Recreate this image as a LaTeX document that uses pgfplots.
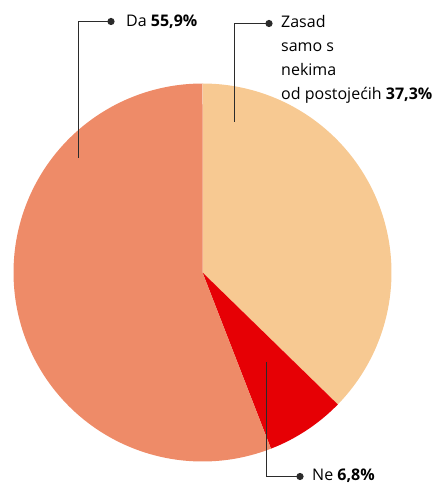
\documentclass[border=0pt]{standalone}
\usepackage{pgfplots}
\pgfplotsset{compat=1.18}
\usepackage{fontspec}
\setmainfont{Open Sans}
\definecolor{cZasad}{HTML}{F7C992}
\definecolor{cNe}{HTML}{E60005}
\definecolor{cDa}{HTML}{EE8B68}
\definecolor{cLine}{HTML}{2B2B2B}
% shares (percent): Zasad 37.3, Ne 6.8, Da 55.9 ; clockwise from 12 o'clock
\def\angA{90}
\def\angB{-44.28}   % 90 - 3.6*37.3
\def\angC{-68.76}   % -44.28 - 3.6*6.8
\def\angD{-270}     % -68.76 - 3.6*55.9
\tikzset{lbl/.style={anchor=base west, inner sep=0pt, font=\fontsize{16}{24}\selectfont}}
\begin{document}
\begin{tikzpicture}
\begin{axis}[
  x=1pt, y=1pt,
  xmin=0, xmax=439, ymin=0, ymax=484,
  hide axis, clip=false,
]
\path (axis cs:0,0) rectangle (axis cs:439,484);
% Zasad 37.3
\addplot[fill=cZasad, draw=none, domain=\angA:\angB, samples=120, variable=\t]
  ({202.5+189*cos(t)},{211.5+189*sin(t)}) -- (axis cs:202.5,211.5) -- cycle;
% Ne 6.8
\addplot[fill=cNe, draw=none, domain=\angB:\angC, samples=40, variable=\t]
  ({202.5+189*cos(t)},{211.5+189*sin(t)}) -- (axis cs:202.5,211.5) -- cycle;
% Da 55.9
\addplot[fill=cDa, draw=none, domain=\angC:\angD, samples=180, variable=\t]
  ({202.5+189*cos(t)},{211.5+189*sin(t)}) -- (axis cs:202.5,211.5) -- cycle;
% leader lines
\draw[cLine, line width=1.3pt] (axis cs:78.5,326) -- (axis cs:78.5,462.5) -- (axis cs:111,462.5);
\fill[cLine] (axis cs:111,462.5) circle[radius=3.6pt];
\draw[cLine, line width=1.3pt] (axis cs:234.5,362) -- (axis cs:234.5,460.5) -- (axis cs:269,460.5);
\fill[cLine] (axis cs:269,460.5) circle[radius=3.6pt];
\draw[cLine, line width=1.3pt] (axis cs:266.5,122) -- (axis cs:266.5,7.5) -- (axis cs:300,7.5);
\fill[cLine] (axis cs:300,7.5) circle[radius=3.6pt];
% labels
\node[lbl] at (axis cs:126,457) {Da \textbf{55,9\%}};
\node[lbl] at (axis cs:281,456) {Zasad};
\node[lbl] at (axis cs:281,432) {samo s};
\node[lbl] at (axis cs:281,408.5) {nekima};
\node[lbl] at (axis cs:281,384) {od postojećih \textbf{37,3\%}};
\node[lbl] at (axis cs:312,3.5) {Ne \textbf{6,8\%}};
\end{axis}
\end{tikzpicture}
\end{document}
